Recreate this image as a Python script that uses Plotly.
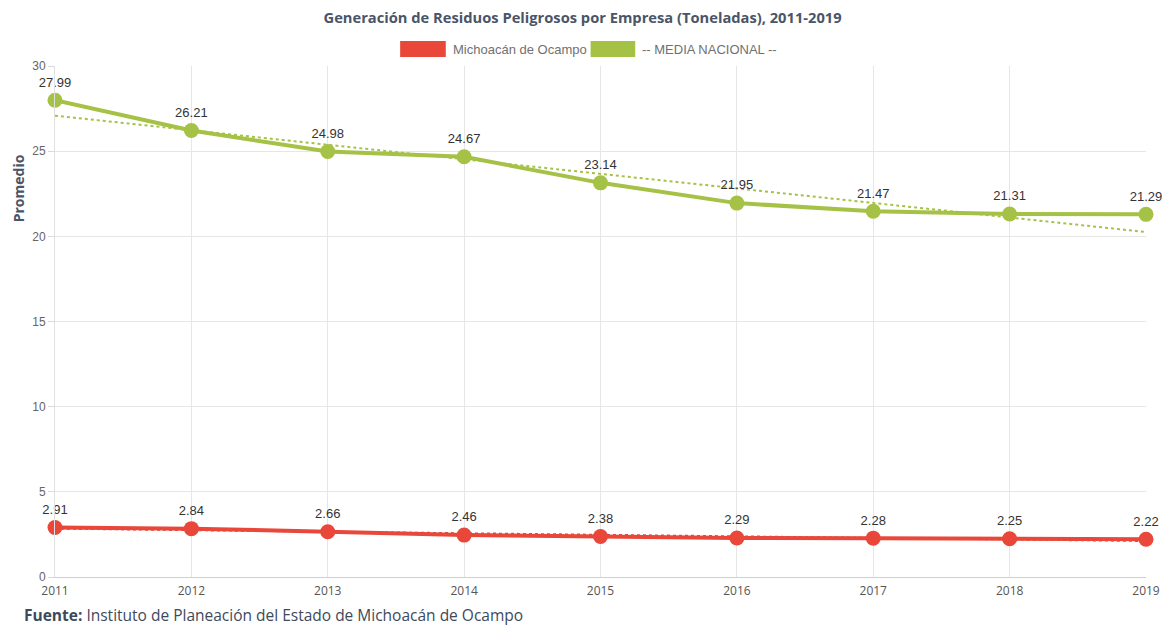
import numpy as np
import plotly.graph_objects as go

years = [2011, 2012, 2013, 2014, 2015, 2016, 2017, 2018, 2019]
michoacan = [2.91, 2.84, 2.66, 2.46, 2.38, 2.29, 2.28, 2.25, 2.22]
nacional = [27.99, 26.21, 24.98, 24.67, 23.14, 21.95, 21.47, 21.31, 21.29]
y_ticks = [0, 5, 10, 15, 20, 25, 30]

RED = "#e8473a"
GREEN = "#a5c246"

# page body has an 8px margin, so figure coords = screen coords - 8
OFF = 8
W, H = 1164, 619
L, T = 55 - OFF, 66 - OFF
R = W - (1155 - OFF)
B = H - (577 - OFF)
PW, PH = 1100, 511


def px(x):
    return (x - 55) / PW


def py(y):
    return (577 - y) / PH


def trend(xs, ys):
    x = np.array(xs, dtype=float)
    m, b = np.polyfit(x, np.array(ys, dtype=float), 1)
    return list(m * x + b)


fig = go.Figure()

for ys, col in [(michoacan, RED), (nacional, GREEN)]:
    fig.add_trace(go.Scatter(
        x=years, y=trend(years, ys), mode="lines",
        line=dict(color=col, width=2, dash="dot"),
        hoverinfo="skip", showlegend=False))

for ys, col in [(michoacan, RED), (nacional, GREEN)]:
    fig.add_trace(go.Scatter(
        x=years, y=ys, mode="lines+markers+text",
        line=dict(color=col, width=4),
        marker=dict(color=col, size=15),
        text=[f"{v:.2f}" for v in ys],
        textposition="top center",
        textfont=dict(family="Liberation Sans, Arial", size=13, color="#333333"),
        cliponaxis=False, showlegend=False))

fig.update_layout(
    width=W, height=H,
    margin=dict(l=L, r=R, t=T, b=B),
    paper_bgcolor="white", plot_bgcolor="white",
    showlegend=False,
    title=dict(text="<b>Generación de Residuos Peligrosos por Empresa (Toneladas), 2011-2019</b>",
               x=px(598), xanchor="center", yref="container", y=1 - (18 - OFF) / H, yanchor="middle",
               font=dict(family="Open Sans", size=14.7, color="#4a5568")),
    xaxis=dict(range=[2011, 2019], tickvals=years, ticktext=[str(y) for y in years],
               showgrid=True, gridcolor="#e6e6e6", gridwidth=1,
               showline=True, linecolor="#cfcfcf", linewidth=1,
               zeroline=False,
               tickfont=dict(family="Open Sans", size=12, color="#555555"),
               ticks="", ticklabelstandoff=3),
    yaxis=dict(range=[0, 30], tickvals=y_ticks,
               showgrid=True, gridcolor="#e6e6e6", gridwidth=1,
               showline=True, linecolor="#e0e0e0", zeroline=False,
               ticks="outside", ticklen=6, tickcolor="#d8d8d8",
               tickfont=dict(family="Liberation Sans, Arial", size=12, color="#666666")),
)

# Legend drawn manually
fig.add_shape(type="rect", xref="paper", yref="paper",
              x0=px(403), x1=px(449), y0=py(57), y1=py(41),
              fillcolor=RED, line=dict(color=RED, width=0), layer="above")
fig.add_shape(type="rect", xref="paper", yref="paper",
              x0=px(595), x1=px(640), y0=py(57), y1=py(41),
              fillcolor=GREEN, line=dict(color=GREEN, width=0), layer="above")
fig.add_annotation(text="Michoacán de Ocampo", xref="paper", yref="paper",
                   x=px(454), y=py(49), xanchor="left", yanchor="middle",
                   showarrow=False,
                   font=dict(family="Liberation Sans, Arial", size=13, color="#707070"))
fig.add_annotation(text="-- MEDIA NACIONAL --", xref="paper", yref="paper",
                   x=px(645), y=py(49), xanchor="left", yanchor="middle",
                   showarrow=False,
                   font=dict(family="Liberation Sans, Arial", size=13, color="#707070"))

# Y axis title
fig.add_annotation(text="<b>Promedio</b>", xref="paper", yref="paper",
                   x=px(18), y=py(188), xanchor="center", yanchor="middle",
                   textangle=-90, showarrow=False, borderpad=0,
                   font=dict(family="Open Sans", size=14, color="#4a5568"))

# Source note
fig.add_annotation(text="<b>Fuente:</b> Instituto de Planeación del Estado de Michoacán de Ocampo",
                   xref="paper", yref="paper",
                   x=px(23), y=py(627), xanchor="left", yanchor="bottom",
                   showarrow=False, borderpad=0,
                   font=dict(family="Open Sans", size=15.5, color="#3d4a5c"))

fig.write_html("out.html")
